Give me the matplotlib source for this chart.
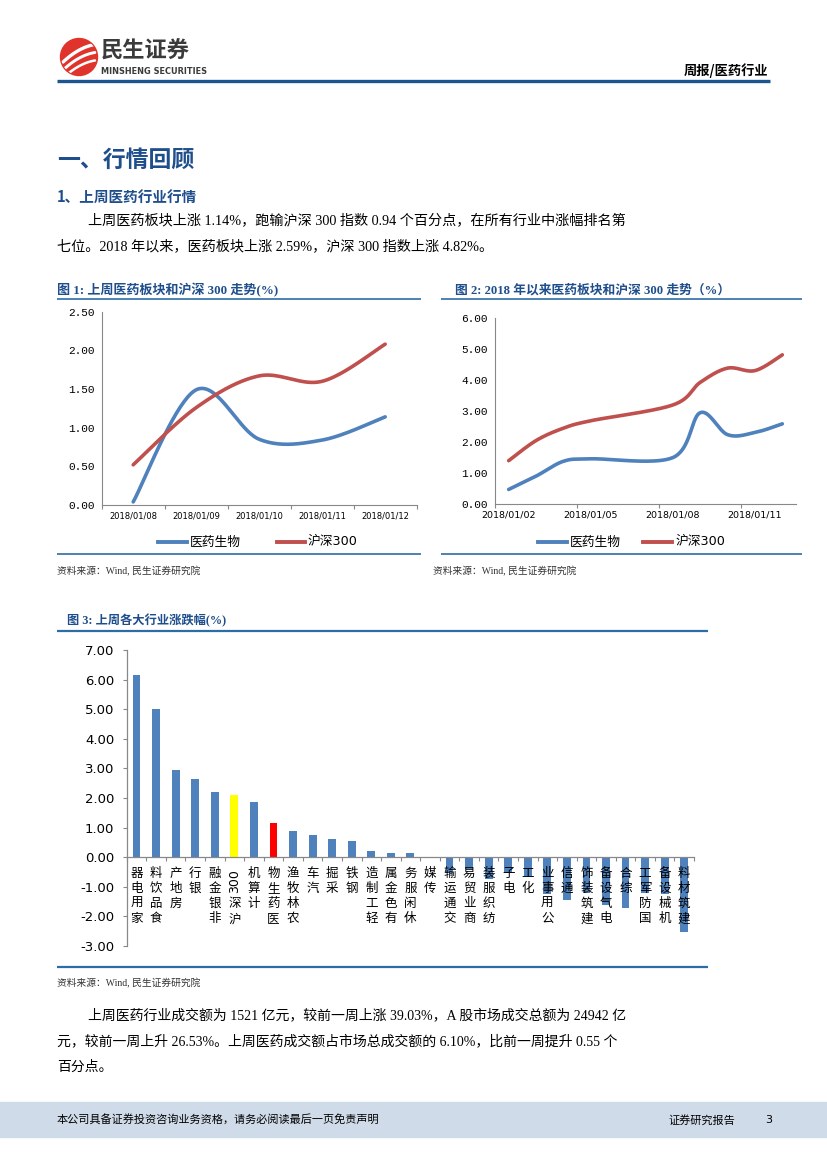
import numpy as np
import pandas as pd
import matplotlib
matplotlib.use("Agg")
import matplotlib.pyplot as plt
from matplotlib.patches import Circle, Rectangle

plt.rcParams['font.family'] = ['Noto Sans CJK SC', 'DejaVu Sans']

W, H = 827, 1169

# ---- data ----
week_days = ['2018/01/08', '2018/01/09', '2018/01/10', '2018/01/11', '2018/01/12']
week_pharma = [0.04, 1.49, 0.85, 0.84, 1.14]
week_hs300 = [0.52, 1.26, 1.67, 1.60, 2.08]

ytd_days = ['2018/01/02', '2018/01/03', '2018/01/04', '2018/01/05', '2018/01/08',
            '2018/01/09', '2018/01/10', '2018/01/11', '2018/01/12']
ytd_pharma = [0.47, 0.90, 1.38, 1.46, 1.50, 2.95, 2.24, 2.31, 2.59]
ytd_hs300 = [1.40, 2.05, 2.45, 2.69, 3.20, 3.93, 4.39, 4.31, 4.82]

industries = ['家用电器', '食品饮料', '房地产', '银行', '非银金融', '沪深300', '计算机',
              '医药生物', '农林牧渔', '汽车', '采掘', '钢铁', '轻工制造', '有色金属',
              '休闲服务', '传媒', '交通运输', '商业贸易', '纺织服装', '电子', '化工',
              '公用事业', '通信', '建筑装饰', '电气设备', '综合', '国防军工', '机械设备',
              '建筑材料']
changes = [6.15, 5.02, 2.93, 2.63, 2.21, 2.10, 1.88, 1.14, 0.89, 0.75, 0.63, 0.55,
           0.21, 0.15, 0.13, -0.02, -0.52, -0.40, -0.72, -0.52, -0.65, -1.23, -1.45,
           -1.22, -1.62, -1.73, -1.22, -1.25, -2.53]

BLUE = '#4f81bd'
RED = '#c0504d'
NAVY = '#1f4e8c'
FRAME = '#2e6ca4'
AXIS = '#888888'
BODY = ['Liberation Serif', 'Noto Sans CJK SC']


def smooth(x, y, n=40):
    """Excel-style smoothed line (cubic Bezier through the points)."""
    x = np.asarray(x, float)
    y = np.asarray(y, float)
    px = np.concatenate([[x[0]], x, [x[-1]]])
    py = np.concatenate([[y[0]], y, [y[-1]]])
    t = np.linspace(0, 1, n)[:, None]
    out = []
    for i in range(len(x) - 1):
        p0 = np.array([px[i], py[i]])
        p1 = np.array([px[i + 1], py[i + 1]])
        p2 = np.array([px[i + 2], py[i + 2]])
        p3 = np.array([px[i + 3], py[i + 3]])
        c1 = p1 + (p2 - p0) / 6
        c2 = p2 - (p3 - p1) / 6
        seg = ((1 - t) ** 3) * p1 + 3 * ((1 - t) ** 2) * t * c1 + 3 * (1 - t) * t ** 2 * c2 + t ** 3 * p2
        out.append(seg)
    pts = np.vstack(out)
    return pts[:, 0], pts[:, 1]


def box(left, top, right, bottom):
    return [left / W, 1 - bottom / H, (right - left) / W, (bottom - top) / H]


fig = plt.figure(figsize=(W / 100, H / 100), dpi=100)
page = fig.add_axes([0, 0, 1, 1])
page.set_xlim(0, W)
page.set_ylim(H, 0)
page.axis('off')


def put(x, y, s, size, color='black', weight='normal', family=None, ha='left', va='center'):
    page.text(x, y, s, fontsize=size, color=color, fontweight=weight,
              family=family if family else ['Noto Sans CJK SC', 'DejaVu Sans'],
              ha=ha, va=va)


def hline(y, x0, x1, color=FRAME, lw=1.2):
    page.plot([x0, x1], [y, y], color=color, lw=lw, solid_capstyle='butt')


# ---- header ----
page.add_patch(Circle((79, 57), 18.5, color='#e0332b'))
for k, off in enumerate([-8, 0, 8]):
    xs = np.linspace(63, 95, 20)
    ys = 67 + off - (xs - 63) * 0.55 + 0.012 * (xs - 79) ** 2
    ln, = page.plot(xs, ys, color='white', lw=2.4 - 0.3 * k, solid_capstyle='round')
    ln.set_clip_path(Circle((79, 57), 18, transform=page.transData))
put(101, 51, '民生证券', 16, color='#3b3b3b', weight='bold')
put(101, 71, 'MINSHENG SECURITIES', 5.9, color='#3b3b3b', weight='bold', family=['DejaVu Sans'])
put(768, 71, '周报/医药行业', 9.5, color='black', weight='bold', ha='right')
hline(80.5, 57, 770, color='#1f558f', lw=2.4)

# ---- section heading and text ----
put(57, 160, '一、行情回顾', 16.5, color=NAVY, weight='bold')
put(57, 197, '1、上周医药行业行情', 10.5, color=NAVY, weight='bold')
put(88, 221, '上周医药板块上涨 1.14%，跑输沪深 300 指数 0.94 个百分点，在所有行业中涨幅排名第', 10.2, family=BODY)
put(57, 246, '七位。2018 年以来，医药板块上涨 2.59%，沪深 300 指数上涨 4.82%。', 10.2, family=BODY)

# ---- figure 1 ----
put(57, 290, '图 1: 上周医药板块和沪深 300 走势(%)', 9.4, color=NAVY, weight='bold', family=BODY)
hline(299, 57, 421)
ax1 = fig.add_axes(box(101.7, 311.7, 416.7, 505))
xi = np.arange(len(week_days))
for vals, col, lab in [(week_pharma, BLUE, '医药生物'), (week_hs300, RED, '沪深300')]:
    sx, sy = smooth(xi, vals)
    ax1.plot(sx, sy, color=col, lw=2.6, label=lab, solid_capstyle='round')
ax1.set_xlim(-0.5, len(week_days) - 0.5)
ax1.set_ylim(0, 2.5)
ax1.set_yticks(np.arange(0, 2.51, 0.5))
ax1.set_yticklabels([f'{v:.2f}' for v in np.arange(0, 2.51, 0.5)], family='Liberation Mono', fontsize=8)
ax1.set_xticks(np.arange(-0.5, len(week_days), 1))
ax1.set_xticklabels([])
ax1.set_xticks(xi, minor=True)
ax1.set_xticklabels(week_days, minor=True, fontsize=6, family='DejaVu Sans')
ax1.tick_params(axis='x', which='major', length=3, color=AXIS)
ax1.tick_params(axis='x', which='minor', length=0, pad=5)
ax1.tick_params(axis='y', length=0, pad=5)
for s in ['top', 'right']:
    ax1.spines[s].set_visible(False)
for s in ['left', 'bottom']:
    ax1.spines[s].set_color(AXIS)
    ax1.spines[s].set_linewidth(0.8)
ax1.patch.set_alpha(0)
page.plot([158, 187], [542, 542], color=BLUE, lw=2.8)
put(190, 542, '医药生物', 9.2)
page.plot([277, 305], [542, 542], color=RED, lw=2.8)
put(308, 542, '沪深300', 9.2, family=['DejaVu Sans', 'Noto Sans CJK SC'])
hline(554, 57, 421)
put(57, 571, '资料来源：Wind, 民生证券研究院', 7, color='#333333', family=BODY)

# ---- figure 2 ----
put(455, 290, '图 2: 2018 年以来医药板块和沪深 300 走势（%）', 9.2, color=NAVY, weight='bold', family=BODY)
hline(299, 441, 802)
ax2 = fig.add_axes(box(495, 318.3, 796, 504))
dates = pd.to_datetime(ytd_days)
all_days = pd.date_range(dates[0], dates[-1], freq='D')
dx = np.array([(d - dates[0]).days for d in dates])
for vals, col in [(ytd_pharma, BLUE), (ytd_hs300, RED)]:
    sx, sy = smooth(dx, vals)
    ax2.plot(sx, sy, color=col, lw=2.6, solid_capstyle='round')
ax2.set_xlim(-0.5, len(all_days) - 0.5)
ax2.set_ylim(0, 6)
ax2.set_yticks(np.arange(0, 6.01, 1))
ax2.set_yticklabels([f'{v:.2f}' for v in np.arange(0, 6.01, 1)], family='Liberation Mono', fontsize=8)
ax2.set_xticks(np.arange(-0.5, len(all_days), 3))
ax2.set_xticklabels([])
lab_idx = np.arange(0, len(all_days), 3)
ax2.set_xticks(lab_idx, minor=True)
ax2.set_xticklabels([all_days[i].strftime('%Y/%m/%d') for i in lab_idx], minor=True,
                    fontsize=6.8, family='DejaVu Sans')
ax2.tick_params(axis='x', which='major', length=3, color=AXIS)
ax2.tick_params(axis='x', which='minor', length=0, pad=5)
ax2.tick_params(axis='y', length=0, pad=5)
for s in ['top', 'right']:
    ax2.spines[s].set_visible(False)
for s in ['left', 'bottom']:
    ax2.spines[s].set_color(AXIS)
    ax2.spines[s].set_linewidth(0.8)
ax2.patch.set_alpha(0)
page.plot([538, 567], [542, 542], color=BLUE, lw=2.8)
put(570, 542, '医药生物', 9.2)
page.plot([643, 672], [542, 542], color=RED, lw=2.8)
put(675, 542, '沪深300', 9.2, family=['DejaVu Sans', 'Noto Sans CJK SC'])
hline(554, 441, 802)
put(433, 571, '资料来源：Wind, 民生证券研究院', 7, color='#333333', family=BODY)

# ---- figure 3 ----
put(67, 621, '图 3: 上周各大行业涨跌幅(%)', 8.8, color=NAVY, weight='bold', family=BODY)
hline(631, 57, 708, lw=1.6)
ax3 = fig.add_axes(box(126.8, 650, 694, 946))
highlight = {'沪深300': '#ffff00', '医药生物': '#ff0000'}
cols = [highlight.get(n, BLUE) for n in industries]
xb = np.arange(len(industries))
ax3.bar(xb, changes, width=0.4, color=cols, zorder=2)
ax3.set_xlim(-0.5, len(industries) - 0.5)
ax3.set_ylim(-3, 7)
ax3.set_yticks(np.arange(-3, 7.01, 1))
ax3.set_yticklabels([f'{v:.2f}' for v in np.arange(-3, 7.01, 1)], fontsize=9.5, family='DejaVu Sans')
ax3.set_xticks(np.arange(-0.5, len(industries), 1))
ax3.set_xticklabels([])
ax3.tick_params(axis='x', length=3, color=AXIS)
ax3.tick_params(axis='y', length=3, color=AXIS, pad=6)
ax3.spines['bottom'].set_position(('data', 0))
for s in ['top', 'right']:
    ax3.spines[s].set_visible(False)
for s in ['left', 'bottom']:
    ax3.spines[s].set_color(AXIS)
    ax3.spines[s].set_linewidth(0.9)
ax3.patch.set_alpha(0)

# category names: upright glyphs, reading bottom-to-top, last glyph next to the axis
unit = 10 / 296.0          # data units per pixel
pitch = 15 * unit
top = -9 * unit
for i, name in enumerate(industries):
    parts = [name[:-3], name[-3:]] if name.endswith('300') else list(name)
    pos = top
    for p in reversed(parts):
        if p.isdigit():
            span = 2 * pitch
            ax3.text(i, pos - span / 2, p, rotation=90, ha='center', va='center',
                     fontsize=9, family='DejaVu Sans', zorder=3)
            pos -= span
        elif len(p) > 1:
            for ch in reversed(p):
                ax3.text(i, pos - pitch / 2, ch, ha='center', va='center', fontsize=9, zorder=3)
                pos -= pitch
        else:
            ax3.text(i, pos - pitch / 2, p, ha='center', va='center', fontsize=9, zorder=3)
            pos -= pitch

hline(967, 57, 708, lw=1.6)
put(57, 983, '资料来源：Wind, 民生证券研究院', 7, color='#333333', family=BODY)

put(88, 1015, '上周医药行业成交额为 1521 亿元，较前一周上涨 39.03%，A 股市场成交总额为 24942 亿', 10, family=BODY)
put(57, 1041, '元，较前一周上升 26.53%。上周医药成交额占市场总成交额的 6.10%，比前一周提升 0.55 个', 10, family=BODY)
put(57, 1067, '百分点。', 10, family=BODY)

# ---- footer ----
page.add_patch(Rectangle((0, 1102), W, 35, color='#cfdbe8', zorder=0))
put(57, 1120, '本公司具备证券投资咨询业务资格，请务必阅读最后一页免责声明', 8)
put(668, 1120, '证券研究报告', 8)
put(765, 1120, '3', 8, family=['DejaVu Sans'])

fig.savefig('out.png', dpi=100)
